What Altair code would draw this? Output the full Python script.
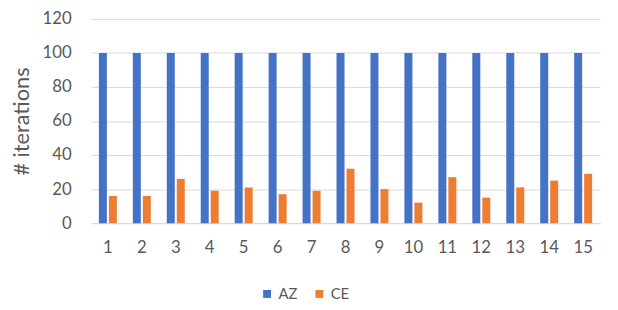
import altair as alt
import pandas as pd

categories = [str(i) for i in range(1, 16)]
az = [100] * 15
ce = [16, 16, 26, 19, 21, 17, 19, 32, 20, 12, 27, 15, 21, 25, 29]

rows = []
for c, a, e in zip(categories, az, ce):
    rows.append({"run": c, "series": "AZ", "value": a})
    rows.append({"run": c, "series": "CE", "value": e})
df = pd.DataFrame(rows)

font = "Lato"
gray = "#595959"

chart = alt.Chart(df).mark_bar().encode(
    x=alt.X("run:N", sort=categories, title=None,
            scale=alt.Scale(paddingInner=0.47, paddingOuter=0.235),
            axis=alt.Axis(labelAngle=0, ticks=False, grid=False, domain=True, domainColor="#d9d9d9",
                          labelFont=font, labelFontSize=17, labelColor=gray, labelPadding=17)),
    xOffset=alt.XOffset("series:N", scale=alt.Scale(paddingInner=0.2)),
    y=alt.Y("value:Q", title="# iterations",
            scale=alt.Scale(domain=[0, 120]),
            axis=alt.Axis(values=[0, 20, 40, 60, 80, 100, 120], ticks=False, domain=False,
                          grid=True, gridColor="#d9d9d9", labelFont=font, labelFontSize=17,
                          labelColor=gray, labelPadding=20, titleFont=font,
                          titleFontSize=22, titleColor=gray, titleFontWeight="normal",
                          titlePadding=9)),
    color=alt.Color("series:N", title=None,
                    scale=alt.Scale(domain=["AZ", "CE"], range=["#4472C4", "#ED7D31"]),
                    legend=alt.Legend(orient="none", legendX=171, legendY=271,
                                      direction="horizontal", symbolType="square",
                                      symbolSize=64, labelFont=font, labelFontSize=15,
                                      labelColor=gray, columnPadding=14, labelOffset=4)),
).properties(width=516, height=207, autosize=alt.AutoSizeParams(type="none"),
             padding={"left": 84, "top": 9, "right": 10, "bottom": 86}
).configure_view(stroke=None)

chart.save("out.html", embed_options={"renderer": "svg", "actions": False})
